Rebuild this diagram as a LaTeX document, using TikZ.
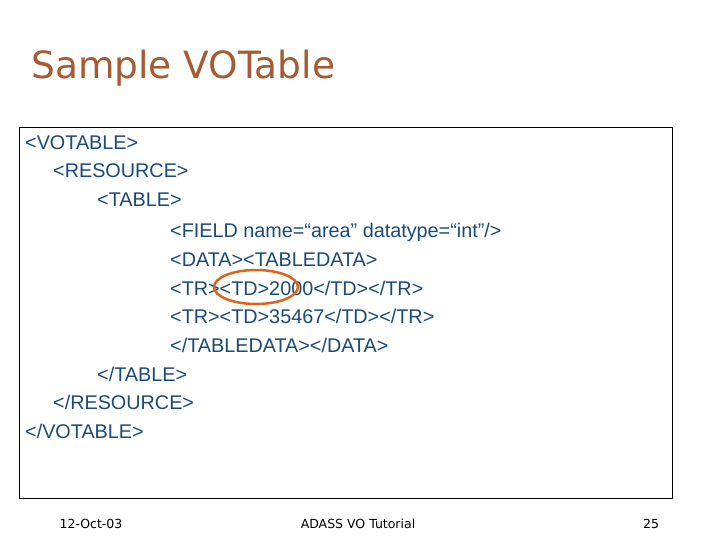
\documentclass[tikz,border=0pt]{standalone}
\usepackage{fontspec}
\setmainfont{Liberation Sans}
\newfontfamily\titlefont{DejaVu Sans}
\newfontfamily\footfont{DejaVu Sans}
\definecolor{titlec}{HTML}{A65C32}
\definecolor{codec}{HTML}{1A4A7A}
\definecolor{ringc}{HTML}{D9661F}
\begin{document}
\begin{tikzpicture}[x=1pt,y=-1pt,
  code/.style={anchor=base west,inner sep=0pt,text=codec,font=\fontsize{19.8}{22}\selectfont},
  foot/.style={anchor=base,inner sep=0pt,font=\footfont\fontsize{12.5}{14}\selectfont}]
\useasboundingbox[fill=white] (0,0) rectangle (720,540);
\node[anchor=base west,inner sep=0pt,text=titlec,font=\titlefont\fontsize{37.5}{40}\selectfont] (title) at (31,79) {Sample VOTable};
\draw[line width=0.8pt] (19,127) rectangle (672,498);
\node[code] (l1) at (25,150) {<VOTABLE>};
\node[code] (l2) at (53,178) {<RESOURCE>};
\node[code] (l3) at (97,207) {<TABLE>};
\node[code] (l4) at (170,237) {<FIELD name=“area” datatype=“int”/>};
\node[code] (l5) at (170,266) {<DATA><TABLEDATA>};
\node[code] (l6) at (170,295) {<TR><TD>2000</TD></TR>};
\node[code] (l7) at (170,323) {<TR><TD>35467</TD></TR>};
\node[code] (l8) at (170,352) {</TABLEDATA></DATA>};
\node[code] (l9) at (97,381) {</TABLE>};
\node[code] (l10) at (53,409) {</RESOURCE>};
\node[code] (l11) at (25,438) {</VOTABLE>};
\draw[ringc,line width=2.5pt] (256,287) ellipse [x radius=42, y radius=17];
\node[foot] (f1) at (91,528) {12-Oct-03};
\node[foot] (f2) at (358,528) {ADASS VO Tutorial};
\node[foot] (f3) at (651,528) {25};
\end{tikzpicture}
\end{document}
